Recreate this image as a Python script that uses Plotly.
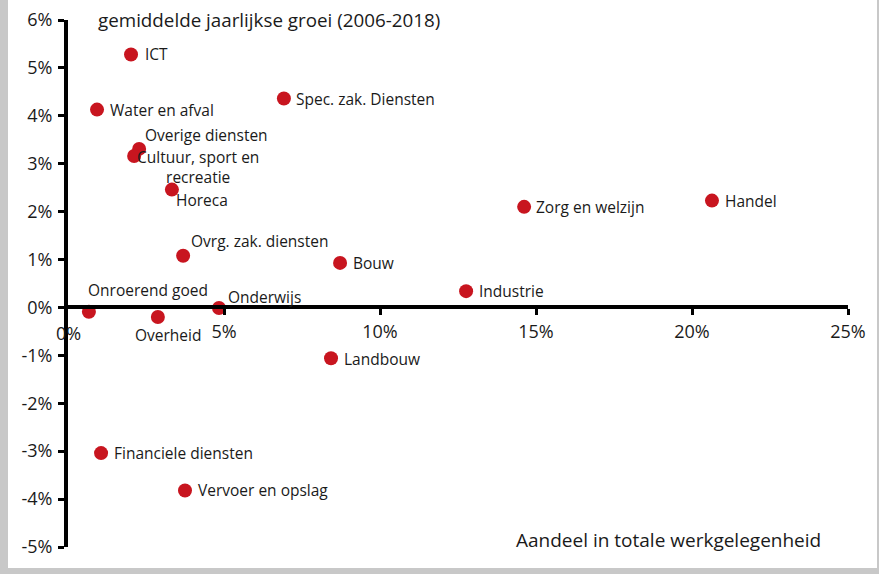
import plotly.graph_objects as go

sectors = ["ICT", "Water en afval", "Spec. zak. Diensten", "Overige diensten",
           "Cultuur, sport en<br>recreatie", "Horeca", "Zorg en welzijn", "Handel",
           "Ovrg. zak. diensten", "Bouw", "Industrie", "Onroerend goed", "Overheid",
           "Onderwijs", "Landbouw", "Financiele diensten", "Vervoer en opslag"]
share = [2.02, 0.93, 6.92, 2.28, 2.12, 3.33, 14.62, 20.64, 3.69, 8.72, 12.76,
         0.67, 2.88, 4.84, 8.43, 1.06, 3.75]
growth = [5.28, 4.13, 4.36, 3.31, 3.16, 2.46, 2.10, 2.23, 1.08, 0.93, 0.34,
          -0.09, -0.20, -0.01, -1.06, -3.04, -3.82]

x_ticks = [5, 10, 15, 20, 25]
x_ticktext = ["5%", "10%", "15%", "20%", "25%"]
y_ticks = [6, 5, 4, 3, 2, 1, 0, -1, -2, -3, -4, -5]
y_ticktext = ["6%", "5%", "4%", "3%", "2%", "1%", "0%", "-1%", "-2%", "-3%", "-4%", "-5%"]

# label placement (pixel offsets, anchor)
label_pos = {
    "ICT": (12, 0, "left"),
    "Water en afval": (11, 0, "left"),
    "Spec. zak. Diensten": (10, 0, "left"),
    "Overige diensten": (4, 14, "left"),
    "Cultuur, sport en<br>recreatie": (64, -11, "center"),
    "Horeca": (2, -10, "left"),
    "Zorg en welzijn": (10, 0, "left"),
    "Handel": (11, 0, "left"),
    "Ovrg. zak. diensten": (6, 15, "left"),
    "Bouw": (11, 0, "left"),
    "Industrie": (11, 0, "left"),
    "Onroerend goed": (-3, 22, "left"),
    "Overheid": (-25, -18, "left"),
    "Onderwijs": (7, 11, "left"),
    "Landbouw": (11, -1, "left"),
    "Financiele diensten": (11, 0, "left"),
    "Vervoer en opslag": (11, 0, "left"),
}

FONT = "Open Sans"
TXT = "#1a1a1a"
RED = "#C8151F"

fig = go.Figure()
fig.add_trace(go.Scatter(
    x=share, y=growth, mode="markers",
    marker=dict(size=14, color=RED, line=dict(width=0)),
    cliponaxis=False, hoverinfo="text", text=sectors,
))

annotations = []
for name, xv, yv in zip(sectors, share, growth):
    dx, dy, anc = label_pos[name]
    annotations.append(dict(
        x=xv, y=yv, xref="x", yref="y", text=name, showarrow=False,
        xanchor=anc, yanchor="middle", xshift=dx, yshift=dy,
        align="center", font=dict(family=FONT, size=15.5, color=TXT),
    ))

annotations.append(dict(
    x=(96 - 68) / 780, y=(547 - 20) / 527, xref="paper", yref="paper",
    text="gemiddelde jaarlijkse groei (2006-2018)", showarrow=False,
    xanchor="left", yanchor="middle", font=dict(family=FONT, size=18.8, color=TXT),
))
annotations.append(dict(
    x=(823 - 68) / 780, y=(547 - 540) / 527, xref="paper", yref="paper",
    text="Aandeel in totale werkgelegenheid", showarrow=False,
    xanchor="right", yanchor="middle", font=dict(family=FONT, size=19, color=TXT),
))
annotations.append(dict(
    x=0, y=0, xref="x", yref="y", text="0%", showarrow=False,
    xanchor="center", yanchor="middle", yshift=-26,
    font=dict(family=FONT, size=18, color=TXT),
))

GRAY = "#c8c8c8"
shapes = [
    dict(type="rect", xref="paper", yref="paper", x0=-68 / 780, x1=-60 / 780,
         y0=-27 / 527, y1=547 / 527, fillcolor=GRAY, line=dict(width=0), layer="below"),
    dict(type="rect", xref="paper", yref="paper", x0=-68 / 780, x1=811 / 780,
         y0=-27 / 527, y1=-21 / 527, fillcolor=GRAY, line=dict(width=0), layer="below"),
    dict(type="rect", xref="paper", yref="paper", x0=809 / 780, x1=811 / 780,
         y0=-27 / 527, y1=547 / 527, fillcolor=GRAY, line=dict(width=0), layer="below"),
]

fig.update_layout(
    width=879, height=574,
    margin=dict(l=68, r=31, t=20, b=27, autoexpand=False),
    paper_bgcolor="white", plot_bgcolor="white",
    showlegend=False,
    annotations=annotations,
    shapes=shapes,
    xaxis=dict(
        range=[0, 25], anchor="free", position=5 / 11, automargin=False,
        showline=True, linewidth=4, linecolor="black",
        ticks="outside", ticklen=6, tickwidth=3, tickcolor="black",
        tickvals=x_ticks, ticktext=x_ticktext,
        tickfont=dict(family=FONT, size=18, color=TXT),
        showgrid=False, zeroline=False, ticklabelstandoff=1,
    ),
    yaxis=dict(
        range=[-5, 6], automargin=False,
        showline=True, linewidth=4, linecolor="black",
        ticks="outside", ticklen=6, tickwidth=3, tickcolor="black",
        tickvals=y_ticks, ticktext=y_ticktext,
        tickfont=dict(family=FONT, size=18, color=TXT),
        showgrid=False, zeroline=False, ticklabelstandoff=2,
    ),
)

fig.write_html(
    "out.html",
    config={"displayModeBar": False},
    post_script="document.body.style.margin='0';document.body.style.overflow='hidden';",
)
